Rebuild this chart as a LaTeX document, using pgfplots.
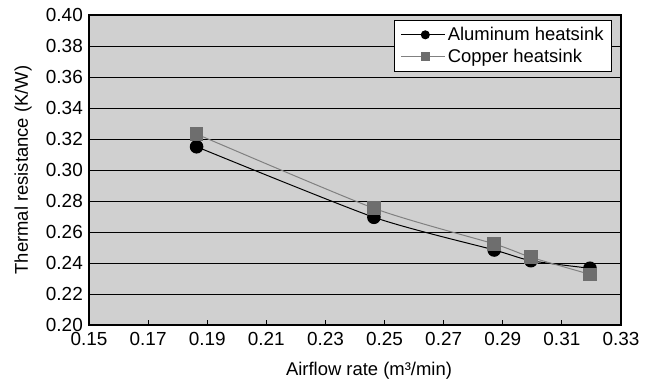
\documentclass[border=0pt]{standalone}
\usepackage{pgfplots}
\pgfplotsset{compat=1.18}
\usepackage{fontspec}
\setmainfont{Liberation Sans}
\definecolor{bggray}{HTML}{D0D0D0}
\definecolor{sqgray}{HTML}{6E6E6E}
\definecolor{lngray}{HTML}{808080}
\begin{document}
\begin{tikzpicture}
\useasboundingbox (-89bp,-58bp) rectangle (561bp,325bp);
\begin{axis}[
  scale only axis,
  width=532bp, height=310bp,
  xmin=0.15, xmax=0.33, ymin=0.20, ymax=0.40,
  xtick={0.15,0.17,...,0.331},
  ytick={0.20,0.22,...,0.401},
  /pgf/number format/assume math mode=true,
  xticklabel style={/pgf/number format/fixed,/pgf/number format/fixed zerofill,/pgf/number format/precision=2, anchor=north, yshift=-5bp},
  yticklabel style={/pgf/number format/fixed,/pgf/number format/fixed zerofill,/pgf/number format/precision=2, anchor=east, xshift=-4bp},
  tick label style={font=\fontsize{19}{21}\selectfont, inner sep=2bp},
  label style={font=\fontsize{18.5}{20}\selectfont},
  axis background/.style={fill=bggray},
  axis line style={line width=2.2pt},
  ymajorgrids,
  grid style={black, line width=0.9pt},
  xtick pos=bottom, xtick align=inside,
  major tick length=5bp,
  tick style={black, line width=0.8pt},
  ytick style={draw=none},
  xlabel={Airflow rate (m³/min)},
  ylabel={Thermal resistance (K/W)},
  xlabel style={at={(axis description cs:0.5,0)}, anchor=base, yshift=-50bp, xshift=14bp},
  ylabel style={at={(axis description cs:0,0.5)}, anchor=center, yshift=66bp},
  legend style={at={(0.983,0.984)}, anchor=north east, draw=black, line width=0.9pt, fill=white,
    font=\fontsize{18.5}{20}\selectfont, row sep=3bp, inner xsep=6bp, inner ysep=5bp},
  legend cell align=left,
  legend image code/.code={\path (0bp,0bp) -- (44bp,0bp); \draw[#1, mark size=4bp] plot coordinates {(9bp,0bp) (24bp,0bp) (39bp,0bp)};},
  legend image post style={mark repeat=2, mark phase=2},
]
\addplot[black, line width=1pt, smooth, tension=0.4, mark=*, mark size=6.3bp, mark options={fill=black, draw=black}]
table {
x y
0.1864 0.3150
0.2464 0.2695
0.2871 0.2484
0.2995 0.2415
0.3195 0.2366
};
\addlegendentry{Aluminum heatsink}
\addplot[lngray, line width=1pt, smooth, tension=0.4, mark=square*, mark size=6.3bp, mark options={fill=sqgray, draw=sqgray}]
table {
x y
0.1864 0.3232
0.2464 0.2753
0.2871 0.2523
0.2995 0.2437
0.3195 0.2327
};
\addlegendentry{Copper heatsink}
\end{axis}
\end{tikzpicture}
\end{document}
